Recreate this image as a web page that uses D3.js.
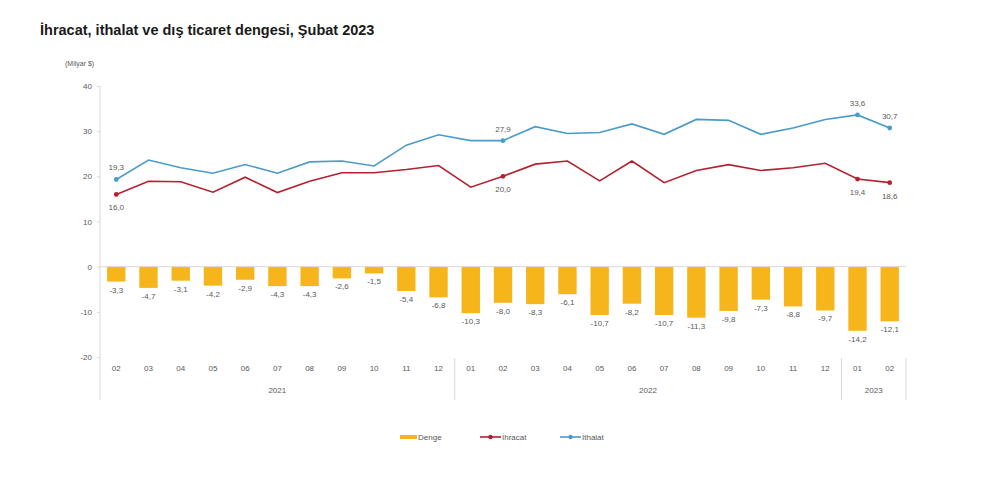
<!DOCTYPE html>
<html>
<head>
<meta charset="utf-8">
<script src="https://cdn.jsdelivr.net/npm/d3@7"></script>
<style>
  body { margin: 0; background: #fff; }
  svg { font-family: "Liberation Sans", Arial, sans-serif; }
</style>
</head>
<body>
<svg id="chart" width="1000" height="489"></svg>
<script>
// months Feb 2021 - Feb 2023
const months = ["02","03","04","05","06","07","08","09","10","11","12",
                "01","02","03","04","05","06","07","08","09","10","11","12",
                "01","02"];
const years = [
  { label: "2021", from: 0, to: 10 },
  { label: "2022", from: 11, to: 22 },
  { label: "2023", from: 23, to: 24 }
];
const denge   = [-3.3,-4.7,-3.1,-4.2,-2.9,-4.3,-4.3,-2.6,-1.5,-5.4,-6.8,
                 -10.3,-8.0,-8.3,-6.1,-10.7,-8.2,-10.7,-11.3,-9.8,-7.3,-8.8,-9.7,
                 -14.2,-12.1];
const ihracat = [16.0,18.9,18.8,16.5,19.8,16.4,18.9,20.8,20.8,21.5,22.4,
                 17.6,20.0,22.7,23.4,19.0,23.4,18.6,21.3,22.6,21.3,21.9,22.9,
                 19.4,18.6];
const ithalat = [19.3,23.6,21.9,20.7,22.6,20.7,23.2,23.4,22.3,26.9,29.2,
                 27.9,27.9,31.0,29.5,29.7,31.6,29.3,32.6,32.4,29.3,30.7,32.6,
                 33.6,30.7];
const lineLabelIdx = [0, 12, 23, 24];
const yTicks = [40, 30, 20, 10, 0, -10, -20];

const cRed = "#B5202E", cBlue = "#4A9BC8", cBar = "#F7B51C", cText = "#595959";
const fmt = v => d3.format(".1f")(v).replace(".", ",").replace("−", "-");

const svg = d3.select("#chart");
const left = 100, right = 906;

const x = d3.scaleBand()
    .domain(d3.range(months.length))
    .range([left, right])
    .paddingInner(0.43)
    .paddingOuter(0.22);

const y = d3.scaleLinear()
    .domain([-20, 40])
    .range([357, 86]);

// title
svg.append("text")
    .attr("x", 40).attr("y", 35)
    .attr("font-size", "14.5px")
    .attr("font-weight", "bold")
    .attr("fill", "#1a1a1a")
    .text("İhracat, ithalat ve dış ticaret dengesi, Şubat 2023");

svg.append("text")
    .attr("x", 65).attr("y", 66)
    .attr("font-size", "7px")
    .attr("fill", cText)
    .text("(Milyar $)");

// y axis
const yAxis = d3.axisLeft(y).tickValues(yTicks).tickSize(3).tickPadding(5)
    .tickFormat(d => String(d));
const gy = svg.append("g")
    .attr("transform", `translate(${left},0)`)
    .call(yAxis);
gy.select(".domain").remove();
gy.selectAll("line").attr("stroke", "#d9d9d9");
gy.selectAll("text").attr("font-size", "8px").attr("fill", cText)
    .attr("font-family", "Liberation Sans, Arial, sans-serif");

svg.append("line")
    .attr("x1", left).attr("x2", left)
    .attr("y1", y(40)).attr("y2", 400)
    .attr("stroke", "#d9d9d9");

// bars
const cx = i => x(i) + x.bandwidth() / 2;
svg.append("g").selectAll("rect")
    .data(denge)
    .enter()
    .append("rect")
    .attr("x", (d, i) => x(i))
    .attr("y", y(0))
    .attr("width", x.bandwidth())
    .attr("height", d => y(d) - y(0))
    .attr("fill", cBar);

svg.append("g").selectAll("text")
    .data(denge)
    .enter()
    .append("text")
    .attr("x", (d, i) => cx(i))
    .attr("y", d => y(d) + 11)
    .attr("text-anchor", "middle")
    .attr("font-size", "8px")
    .attr("fill", cText)
    .text(d => fmt(d));

// zero line
svg.append("line")
    .attr("x1", left).attr("x2", right)
    .attr("y1", y(0)).attr("y2", y(0))
    .attr("stroke", "#d9d9d9");

// lines
const lineFun = d3.line()
    .x((d, i) => cx(i))
    .y(d => y(d));

[[ihracat, cRed, 1], [ithalat, cBlue, -1]].forEach(([data, col, dir]) => {
    svg.append("path")
        .attr("d", lineFun(data))
        .attr("fill", "none")
        .attr("stroke", col)
        .attr("stroke-width", 1.6);
    svg.append("g").selectAll("circle")
        .data(lineLabelIdx)
        .enter()
        .append("circle")
        .attr("cx", i => cx(i))
        .attr("cy", i => y(data[i]))
        .attr("r", 2.4)
        .attr("fill", col);
    svg.append("g").selectAll("text")
        .data(lineLabelIdx)
        .enter()
        .append("text")
        .attr("x", i => cx(i))
        .attr("y", i => y(data[i]) + (dir > 0 ? 16 : -9))
        .attr("text-anchor", "middle")
        .attr("font-size", "8px")
        .attr("fill", cText)
        .text(i => fmt(data[i]));
});

// category axis: months
svg.append("g").selectAll("text")
    .data(months)
    .enter()
    .append("text")
    .attr("x", (d, i) => cx(i))
    .attr("y", 371)
    .attr("text-anchor", "middle")
    .attr("font-size", "8px")
    .attr("fill", cText)
    .text(d => d);

// years + separators
const step = x.step();
years.forEach(g => {
    const x0 = g.from === 0 ? left : x(g.from) - step * x.paddingInner() / 2;
    const x1 = g.to === months.length - 1 ? right : x(g.to) + x.bandwidth() + step * x.paddingInner() / 2;
    svg.append("text")
        .attr("x", (x0 + x1) / 2)
        .attr("y", 393)
        .attr("text-anchor", "middle")
        .attr("font-size", "8px")
        .attr("fill", cText)
        .text(g.label);
    if (g.from > 0) {
        svg.append("line")
            .attr("x1", x0).attr("x2", x0)
            .attr("y1", 358).attr("y2", 400)
            .attr("stroke", "#d9d9d9");
    }
});
svg.append("line")
    .attr("x1", right).attr("x2", right)
    .attr("y1", 358).attr("y2", 400)
    .attr("stroke", "#d9d9d9");

// legend
const lg = svg.append("g").attr("transform", "translate(0,437)");
lg.append("rect").attr("x", 400).attr("y", -2).attr("width", 17).attr("height", 4).attr("fill", cBar);
lg.append("text").attr("x", 418).attr("y", 3).attr("font-size", "8px").attr("fill", cText).text("Denge");
[[480, cRed, "İhracat"], [560, cBlue, "İthalat"]].forEach(([lx, col, name]) => {
    lg.append("line").attr("x1", lx).attr("x2", lx + 21).attr("y1", 0).attr("y2", 0)
        .attr("stroke", col).attr("stroke-width", 1.6);
    lg.append("circle").attr("cx", lx + 10.5).attr("cy", 0).attr("r", 2.2).attr("fill", col);
    lg.append("text").attr("x", lx + 22).attr("y", 3).attr("font-size", "8px").attr("fill", cText).text(name);
});
</script>
</body>
</html>
